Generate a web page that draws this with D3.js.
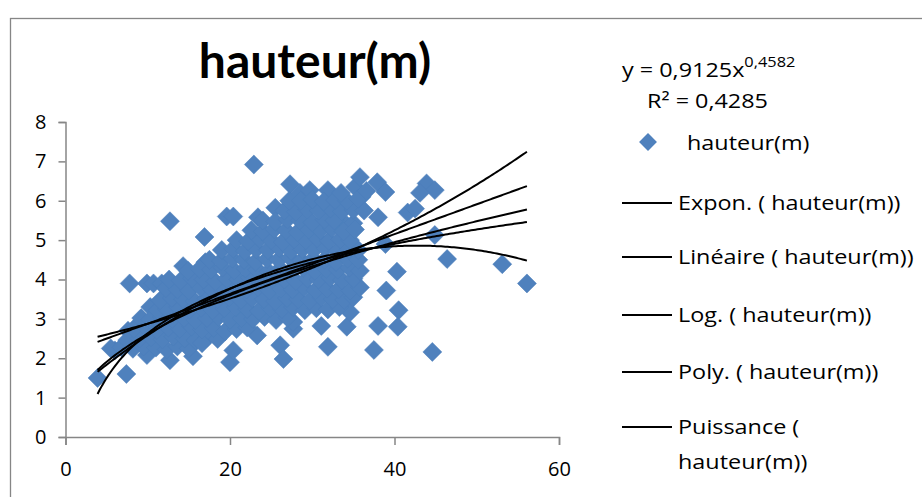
<!DOCTYPE html>
<html>
<head>
<meta charset="utf-8">
<script src="https://cdn.jsdelivr.net/npm/d3@7"></script>
<style>
  html, body { margin: 0; padding: 0; background: #fff; }
  svg { display: block; font-family: "Open Sans", Lato, sans-serif; }
</style>
</head>
<body>
<svg id="chart" width="922" height="497"></svg>
<script>
// Mesures : [diamètre, hauteur(m)]
const mesures = [
  [3.9,1.5],[7.4,1.6],[6.0,2.2],[5.5,2.25],[7.6,2.7],[7.8,3.9],[9.9,3.9],[10.7,3.9],[11.7,3.9],[10.3,3.3],
  [9.9,2.08],[12.7,1.95],[15.5,2.05],[12.7,5.48],[14.3,4.34],[16.9,5.08],[17.0,4.44],[19.6,5.6],[20.4,5.6],[22.9,6.92],
  [23.4,5.58],[25.5,5.82],[27.3,6.42],[28.5,6.2],[29.7,6.27],[31.9,6.27],[35.2,6.35],[35.8,6.6],[37.9,6.47],[38.9,6.22],
  [36.0,6.1],[43.9,6.44],[44.9,6.27],[43.1,6.2],[41.6,5.7],[42.5,5.8],[38.0,5.58],[38.9,4.9],[44.9,5.13],[46.4,4.52],
  [53.1,4.39],[56.1,3.9],[40.3,4.2],[39.0,3.72],[40.5,3.22],[38.0,2.82],[40.4,2.8],[37.5,2.21],[44.6,2.16],[31.9,2.29],
  [31.1,2.82],[34.2,2.8],[34.6,3.17],[27.7,2.75],[26.1,2.33],[26.5,1.98],[23.3,2.58],[20.0,1.9],[20.4,2.2],[33.4,5.5],
  [34.2,5.38],[35.0,5.43],[27.7,2.92],
  [6.8,2.28],[8.2,2.24],[9.5,2.3],[11.0,2.27],[12.3,2.22],[13.6,2.3],[15.0,2.25],
  [7.5,2.46],[9.0,2.5],[10.4,2.53],[11.8,2.48],[13.1,2.55],[14.5,2.5],[15.8,2.46],[17.2,2.52],[18.5,2.49],[16.6,2.38],
  [8.3,2.75],[9.7,2.8],[11.1,2.72],[12.5,2.78],[13.9,2.75],[15.3,2.8],[16.6,2.73],[18.0,2.77],[19.4,2.68],[20.8,2.74],[22.1,2.78],
  [9.2,3.02],[10.3,2.98],[11.7,3.05],[13.0,3.0],[14.4,3.03],[15.8,2.97],[17.2,3.02],[18.6,3.05],[20.0,2.98],[21.4,3.02],
  [22.8,3.0],[24.2,3.05],[25.6,2.97],[27.0,3.03],
  [11.2,3.22],[12.3,3.25],[13.7,3.3],[15.1,3.24],[16.5,3.28],[17.9,3.22],[19.3,3.27],[20.7,3.3],[22.1,3.25],[23.5,3.2],
  [24.9,3.28],[26.3,3.25],[27.7,3.3],[29.1,3.22],[30.5,3.27],[31.9,3.24],[33.3,3.3],
  [11.5,3.47],[12.9,3.53],[14.3,3.5],[15.7,3.45],[17.1,3.52],[18.5,3.5],[19.9,3.55],[21.3,3.48],[22.7,3.52],[24.1,3.5],
  [25.5,3.45],[26.9,3.53],[28.3,3.5],[29.7,3.47],[31.1,3.55],[32.5,3.5],[33.9,3.48],[35.0,3.55],
  [12.2,3.78],[13.6,3.75],[15.0,3.72],[16.4,3.8],[17.8,3.75],[19.2,3.7],[20.6,3.78],[22.0,3.75],[23.4,3.8],[24.8,3.72],
  [26.2,3.77],[27.6,3.75],[29.0,3.8],[30.4,3.73],[31.8,3.77],[33.2,3.75],[34.6,3.72],[35.8,3.8],
  [12.6,4.0],[14.0,3.97],[15.4,4.03],[16.8,4.0],[18.2,3.95],[19.6,4.02],[21.0,4.0],[22.4,4.05],[23.8,3.98],[25.2,4.02],
  [26.6,4.0],[28.0,3.96],[29.4,4.03],[30.8,4.0],[32.2,4.05],[33.6,3.98],[35.0,4.02],
  [14.9,4.22],[16.3,4.27],[17.7,4.25],[19.1,4.3],[20.5,4.23],[21.9,4.28],[23.3,4.25],[24.7,4.2],[26.1,4.27],[27.5,4.25],
  [28.9,4.3],[30.3,4.22],[31.7,4.27],[33.1,4.25],[34.5,4.3],[35.8,4.22],
  [17.5,4.5],[18.9,4.47],[20.3,4.53],[21.7,4.5],[23.1,4.45],[24.5,4.52],[25.9,4.5],[27.3,4.55],[28.7,4.48],[30.1,4.52],
  [31.5,4.5],[32.9,4.45],[34.3,4.53],[35.6,4.5],
  [19.0,4.75],[20.4,4.78],[21.8,4.72],[23.2,4.77],[24.6,4.75],[26.0,4.8],[27.4,4.73],[28.8,4.77],[30.2,4.75],[31.6,4.8],
  [33.0,4.72],[34.4,4.77],[35.6,4.75],
  [20.8,5.0],[22.2,4.97],[23.6,5.03],[25.0,5.0],[26.4,4.95],[27.8,5.02],[29.2,5.0],[30.6,5.05],[32.0,4.98],[33.4,5.02],[34.6,5.0],
  [22.6,5.25],[24.0,5.22],[25.4,5.28],[26.8,5.25],[28.2,5.2],[29.6,5.27],[31.0,5.25],[32.4,5.3],[33.8,5.22],[35.2,5.27],
  [24.0,5.5],[25.5,5.47],[27.0,5.53],[28.5,5.5],[30.0,5.45],[31.5,5.52],[32.7,5.5],
  [26.6,5.75],[28.0,5.72],[29.4,5.78],[30.8,5.75],[32.2,5.8],[33.6,5.73],[35.0,5.77],[36.3,5.75],
  [27.2,6.0],[28.6,6.0],[30.0,6.03],[31.4,5.98],[32.8,6.02],[34.2,6.0],[35.6,6.05],
  [33.5,6.2],[36.6,6.25]
];

// Axes
const xTicks = [0, 20, 40, 60];
const yTicks = [0, 1, 2, 3, 4, 5, 6, 7, 8];

// Courbes de tendance (coefficients)
const expCoef  = [2.354, 0.02004];          // y = a·e^(b·x)
const linCoef  = [0.0758, 2.12];            // y = a·x + b
const logCoef  = [1.638, -1.137];           // y = a·ln(x) + b
const polyCoef = [-0.002125, 0.1816, 0.980];// y = a·x² + b·x + c
const powCoef  = [0.9125, 0.4582];          // y = a·x^b
const r2Puissance = "0,4285";

const legendLabels = [
  ["Expon. ( hauteur(m))"],
  ["Linéaire ( hauteur(m))"],
  ["Log. ( hauteur(m))"],
  ["Poly. ( hauteur(m))"],
  ["Puissance (", "hauteur(m))"]
];

const svg = d3.select("#chart");
const axisColor = "#868686";
const markerFill = "#4F81BD";
const textStretch = 1.17;   // wide text rendering used by the chart labels

// Chart frame
svg.append("rect")
  .attr("x", 10.5).attr("y", 18.5)
  .attr("width", 940).attr("height", 520)
  .attr("fill", "none").attr("stroke", axisColor).attr("stroke-width", 1.3);

const x = d3.scaleLinear().domain([0, 60]).range([65.5, 559]);
const y = d3.scaleLinear().domain([0, 8]).range([437, 122]);

// Title
svg.append("text")
  .attr("x", 315).attr("y", 78)
  .attr("text-anchor", "middle")
  .attr("font-family", "Lato, 'Open Sans', sans-serif")
  .attr("font-size", 48).attr("font-weight", 700)
  .attr("fill", "#000")
  .text("hauteur(m)");

// Y axis
const yAxis = svg.append("g")
  .attr("transform", `translate(${x(0)},0)`)
  .call(d3.axisLeft(y).tickValues(yTicks).tickSize(7).tickPadding(12).tickFormat(d3.format("d")));
// X axis
const xAxis = svg.append("g")
  .attr("transform", `translate(0,${y(0)})`)
  .call(d3.axisBottom(x).tickValues(xTicks).tickSize(8).tickPadding(17).tickFormat(d3.format("d")));

[yAxis, xAxis].forEach(g => {
  g.select(".domain").attr("stroke", axisColor).attr("stroke-width", 1.5);
  g.selectAll(".tick line").attr("stroke", axisColor).attr("stroke-width", 1.5);
  g.selectAll(".tick text").attr("fill", "#000").attr("font-size", 20)
    .attr("font-family", "'Open Sans', Lato, sans-serif");
});

// Scatter markers (diamonds)
const diamond = d3.symbol().type(d3.symbolSquare).size(180);
svg.append("g")
  .selectAll("path")
  .data(mesures)
  .join("path")
  .attr("d", diamond)
  .attr("transform", d => `translate(${x(d[0])},${y(d[1])}) rotate(45)`)
  .attr("fill", markerFill)
  .attr("stroke", "#4A7EBB").attr("stroke-width", 0.5);

// Trendlines over the data extent
const [xMin, xMax] = d3.extent(mesures, d => d[0]);
const xs = d3.range(0, 201).map(i => xMin + (xMax - xMin) * i / 200);
const fits = [
  v => expCoef[0] * Math.exp(expCoef[1] * v),
  v => linCoef[0] * v + linCoef[1],
  v => logCoef[0] * Math.log(v) + logCoef[1],
  v => polyCoef[0] * v * v + polyCoef[1] * v + polyCoef[2],
  v => powCoef[0] * Math.pow(v, powCoef[1])
];
const line = d3.line().x(d => x(d[0])).y(d => y(d[1]));
svg.append("g")
  .selectAll("path")
  .data(fits)
  .join("path")
  .attr("d", f => line(xs.map(v => [v, f(v)])))
  .attr("fill", "none").attr("stroke", "#000").attr("stroke-width", 2);

// Stretched label helper
function label(px, py, size) {
  return svg.append("text")
    .attr("transform", `translate(${px},${py}) scale(${textStretch},1)`)
    .attr("font-size", size).attr("fill", "#000");
}

// Equation label for the power fit
const eq = label(622, 77, 20);
eq.append("tspan").text(`y = ${String(powCoef[0]).replace(".", ",")}x`);
eq.append("tspan").attr("dy", -10).attr("font-size", 14).text(String(powCoef[1]).replace(".", ","));
label(647, 108, 20).text(`R² = ${r2Puissance}`);

// Legend
svg.append("path")
  .attr("d", d3.symbol().type(d3.symbolSquare).size(160))
  .attr("transform", "translate(648,142) rotate(45)")
  .attr("fill", markerFill);
label(687, 150, 20).text("hauteur(m)");

const rowY = [203, 257, 315, 372, 427];
legendLabels.forEach((lines, i) => {
  svg.append("line")
    .attr("x1", 622).attr("x2", 672).attr("y1", rowY[i]).attr("y2", rowY[i])
    .attr("stroke", "#000").attr("stroke-width", 2);
  lines.forEach((t, j) => {
    label(678, rowY[i] + 7 + j * 35, 20).text(t);
  });
});
</script>
</body>
</html>
